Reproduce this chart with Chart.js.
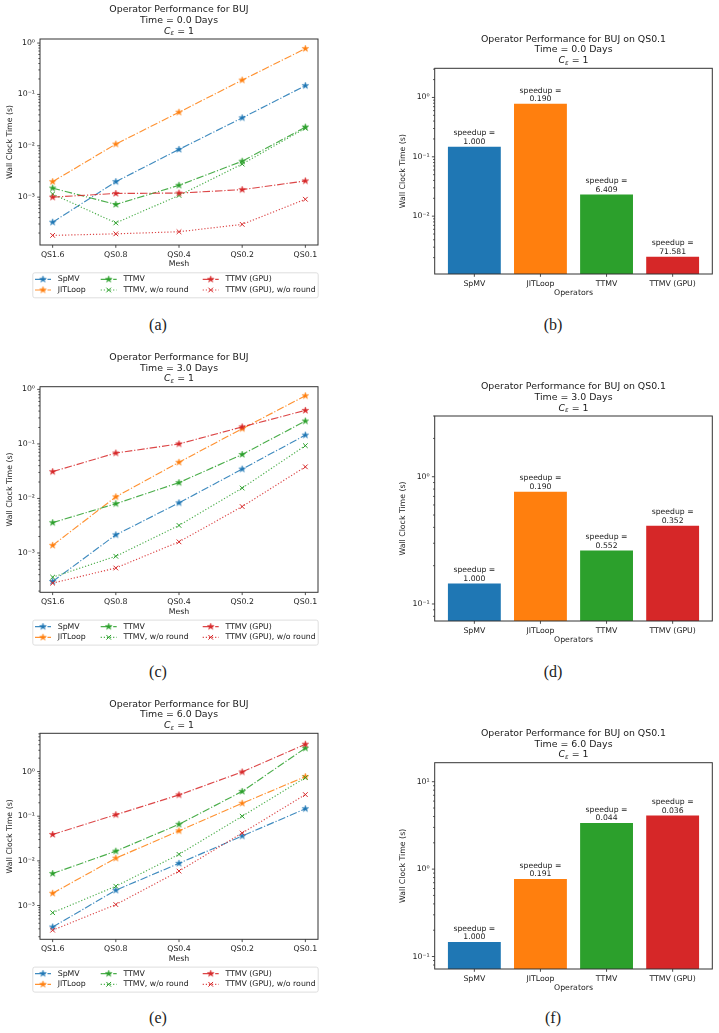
<!DOCTYPE html>
<html>
<head>
<meta charset="utf-8">
<script src="https://cdn.jsdelivr.net/npm/chart.js@4.4.1/dist/chart.umd.min.js"></script>
<style>
  body { margin: 0; background: #fff; }
  #page { position: relative; width: 719px; height: 1033px; overflow: hidden; background: #fff; }
  #page canvas { position: absolute; }
  .cap { position: absolute; font-family: "Liberation Serif", serif; font-size: 16px; color: #222; transform: translate(-50%, -50%); }
</style>
</head>
<body>
<div id="page"></div>
<script>
// ---- data ----
const meshes = ["QS1.6", "QS0.8", "QS0.4", "QS0.2", "QS0.1"];
const operators = ["SpMV", "JITLoop", "TTMV", "TTMV (GPU)"];
const seriesLabels = ["SpMV", "JITLoop", "TTMV", "TTMV, w/o round", "TTMV (GPU)", "TTMV (GPU), w/o round"];
const days = ["0.0", "3.0", "6.0"];

// Time = 0.0 days
const spmv0   = [3.25e-4, 2.0e-3, 8.5e-3, 3.5e-2, 0.148];
const jit0    = [2.0e-3, 1.08e-2, 4.5e-2, 0.19, 0.78];
const ttmv0   = [1.5e-3, 7.2e-4, 1.7e-3, 5.0e-3, 2.31e-2];
const ttmvNr0 = [1.15e-3, 3.15e-4, 1.08e-3, 4.4e-3, 2.2e-2];
const gpu0    = [1.0e-3, 1.18e-3, 1.2e-3, 1.4e-3, 2.07e-3];
const gpuNr0  = [1.8e-4, 1.93e-4, 2.12e-4, 2.95e-4, 9.1e-4];

// Time = 3.0 days
const spmv3   = [3.0e-4, 2.15e-3, 8.3e-3, 3.45e-2, 0.145];
const jit3    = [1.38e-3, 1.07e-2, 4.6e-2, 0.19, 0.763];
const ttmv3   = [3.6e-3, 8.0e-3, 1.95e-2, 6.4e-2, 0.263];
const ttmvNr3 = [3.6e-4, 8.7e-4, 3.2e-3, 1.55e-2, 9.3e-2];
const gpu3    = [3.1e-2, 6.8e-2, 0.1, 0.205, 0.412];
const gpuNr3  = [2.8e-4, 5.3e-4, 1.6e-3, 7.1e-3, 3.8e-2];

// Time = 6.0 days
const spmv6   = [3.3e-4, 2.2e-3, 8.8e-3, 3.6e-2, 0.147];
const jit6    = [1.88e-3, 1.15e-2, 4.7e-2, 0.195, 0.77];
const ttmv6   = [5.2e-3, 1.65e-2, 6.6e-2, 0.36, 3.36];
const ttmvNr6 = [6.9e-4, 2.7e-3, 1.4e-2, 0.1, 0.73];
const gpu6    = [3.9e-2, 0.108, 0.3, 0.98, 4.1];
const gpuNr6  = [2.8e-4, 1.05e-3, 5.9e-3, 4.2e-2, 0.305];

// speedup labels printed above the QS0.1 bars
const speedup0 = ["1.000", "0.190", "6.409", "71.581"];
const speedup3 = ["1.000", "0.190", "0.552", "0.352"];
const speedup6 = ["1.000", "0.191", "0.044", "0.036"];

// ---- styles ----
const FONT = '"DejaVu Sans", sans-serif';
const TXT = '#222';
const BLUE = '#1f77b4', ORANGE = '#ff7f0e', GREEN = '#2ca02c', RED = '#d62728';
const seriesColors = [BLUE, ORANGE, GREEN, GREEN, RED, RED];
const seriesMarkers = ['star', 'star', 'star', 'x', 'star', 'x'];
const DASHDOT = [7.5, 1.9, 1.2, 1.9];
const DOTTED = [1.2, 1.9];
const seriesDash = [DASHDOT, DASHDOT, DASHDOT, DOTTED, DASHDOT, DOTTED];
const barColors = [BLUE, ORANGE, GREEN, RED];

const page = document.getElementById('page');

function makeCanvas(x, y, w, h) {
    const c = document.createElement('canvas');
    c.width = w; c.height = h;
    c.style.left = x + 'px'; c.style.top = y + 'px';
    c.style.width = w + 'px'; c.style.height = h + 'px';
    page.appendChild(c);
    return c;
}

function addCaption(text, x, y) {
    const d = document.createElement('div');
    d.className = 'cap';
    d.textContent = text;
    d.style.left = x + 'px'; d.style.top = y + 'px';
    page.appendChild(d);
}

// filled 5-point star like matplotlib's '*'
const starCache = {};
function starImage(color) {
    if (starCache[color]) return starCache[color];
    const s = 9, c = document.createElement('canvas');
    c.width = s; c.height = s;
    const g = c.getContext('2d');
    g.beginPath();
    for (let i = 0; i < 10; i++) {
        const r = i % 2 ? 1.35 : 3.5;
        const a = -Math.PI / 2 + i * Math.PI / 5;
        g.lineTo(s / 2 + r * Math.cos(a), s / 2 + r * Math.sin(a));
    }
    g.closePath();
    g.fillStyle = color; g.fill();
    g.strokeStyle = color; g.lineWidth = 0.5; g.stroke();
    starCache[color] = c;
    return c;
}

const SUP = { '-': '\u207B', '0': '\u2070', '1': '\u00B9', '2': '\u00B2', '3': '\u00B3', '4': '\u2074', '5': '\u2075' };
function sup(n) { return String(n).split('').map(ch => SUP[ch]).join(''); }

// decade + minor ticks for log axes
function logTicks(scale) {
    const ticks = [];
    const lo = Math.floor(Math.log10(scale.min)), hi = Math.ceil(Math.log10(scale.max));
    for (let k = lo; k <= hi; k++) {
        for (let m = 1; m <= 9; m++) {
            const v = m * Math.pow(10, k);
            if (v >= scale.min * 0.9999 && v <= scale.max * 1.0001) ticks.push({ value: v, major: m === 1 });
        }
    }
    scale.ticks = ticks;
}

function yAxis(min, max, width, titlePad) {
    return {
        type: 'logarithmic', min: min, max: max, bounds: 'data',
        grid: { display: false, drawTicks: false }, border: { display: false },
        afterBuildTicks: logTicks,
        afterFit: s => { s.width = width; },
        ticks: {
            autoSkip: false, padding: 5, color: TXT, font: { family: FONT, size: 7.8 },
            callback: (v, i, t) => t[i].major ? '10' + sup(Math.round(Math.log10(v))) : ''
        },
        title: { display: true, text: 'Wall Clock Time (s)', color: TXT, font: { family: FONT, size: 7.8 }, padding: { top: titlePad, bottom: 0 } }
    };
}

function xAxis(min, max, names, label) {
    return {
        type: 'linear', min: min, max: max, bounds: 'data', offset: false,
        grid: { display: false, drawTicks: false }, border: { display: false },
        afterBuildTicks: s => { s.ticks = names.map((_, i) => ({ value: i })); },
        afterFit: s => { s.height = 26; },
        ticks: { autoSkip: false, maxRotation: 0, padding: 5.3, color: TXT, font: { family: FONT, size: 7.8 }, callback: v => names[v] },
        title: { display: true, text: label, color: TXT, font: { family: FONT, size: 7.8 }, padding: { top: 0, bottom: 2 } }
    };
}

// frame + outward tick marks, drawn over the data like matplotlib spines
const axesDecor = {
    id: 'axesDecor',
    afterDatasetsDraw(chart) {
        const { ctx, chartArea: a, scales } = chart;
        ctx.save();
        ctx.strokeStyle = '#222';
        ctx.lineWidth = 0.8;
        ctx.beginPath();
        scales.x.ticks.forEach(t => {
            const px = scales.x.getPixelForValue(t.value);
            ctx.moveTo(px, a.bottom); ctx.lineTo(px, a.bottom + 2.8);
        });
        scales.y.ticks.forEach(t => {
            const py = scales.y.getPixelForValue(t.value);
            ctx.moveTo(a.left, py); ctx.lineTo(a.left - (t.major ? 2.8 : 1.6), py);
        });
        ctx.stroke();
        ctx.strokeStyle = '#333';
        ctx.lineWidth = 1;
        ctx.strokeRect(a.left, a.top, a.right - a.left, a.bottom - a.top);
        ctx.restore();
    }
};

function titlePlugin(first, day) {
    return {
        id: 'figTitle',
        afterDraw(chart) {
            const { ctx, chartArea: a } = chart;
            const cx = (a.left + a.right) / 2;
            ctx.save();
            ctx.fillStyle = '#1a1a1a';
            ctx.textBaseline = 'middle';
            ctx.textAlign = 'center';
            ctx.font = '9.4px ' + FONT;
            ctx.fillText(first, cx, a.top - 29);
            ctx.fillText('Time = ' + day + ' Days', cx, a.top - 18.5);
            // C_eps = 1
            const y = a.top - 7.8;
            const fC = 'italic 9.4px ' + FONT, fE = 'italic 6.6px ' + FONT, fR = '9.4px ' + FONT;
            ctx.font = fC; const wC = ctx.measureText('C').width;
            ctx.font = fE; const wE = ctx.measureText('\u03B5').width;
            ctx.font = fR; const wR = ctx.measureText(' = 1').width;
            let x0 = cx - (wC + wE + wR) / 2;
            ctx.textAlign = 'left';
            ctx.font = fC; ctx.fillText('C', x0, y); x0 += wC;
            ctx.font = fE; ctx.fillText('\u03B5', x0, y + 2.3); x0 += wE;
            ctx.font = fR; ctx.fillText(' = 1', x0, y);
            ctx.restore();
        }
    };
}

function drawMarker(ctx, ds, x, y) {
    if (ds.pointStyle === 'crossRot') {
        const h = ds.pointRadius * Math.SQRT1_2;
        ctx.strokeStyle = ds.pointBorderColor;
        ctx.lineWidth = ds.pointBorderWidth;
        ctx.beginPath();
        ctx.moveTo(x - h, y - h); ctx.lineTo(x + h, y + h);
        ctx.moveTo(x - h, y + h); ctx.lineTo(x + h, y - h);
        ctx.stroke();
    } else {
        const img = ds.pointStyle;
        ctx.drawImage(img, x - img.width / 2, y - img.height / 2);
    }
}

// 3-column legend under the axes, filled column by column
const legendPlugin = {
    id: 'figLegend',
    afterDraw(chart) {
        const { ctx, chartArea: a } = chart;
        const bx = a.left - 7.7, by = a.bottom + 27.3, bw = a.right - a.left + 7.4, bh = 25;
        ctx.save();
        ctx.beginPath();
        ctx.roundRect(bx + 0.5, by + 0.5, bw, bh, 2);
        ctx.fillStyle = 'rgba(255,255,255,0.8)';
        ctx.fill();
        ctx.strokeStyle = '#d6d6d6';
        ctx.lineWidth = 0.8;
        ctx.stroke();
        const colX = [2.7, 68.4, 170.4];
        const rowY = [7, 17.7];
        chart.data.datasets.forEach((ds, i) => {
            const x0 = bx + colX[Math.floor(i / 2)], y0 = by + rowY[i % 2];
            ctx.strokeStyle = ds.borderColor;
            ctx.lineWidth = ds.borderWidth;
            ctx.setLineDash(ds.borderDash);
            ctx.beginPath();
            ctx.moveTo(x0, y0); ctx.lineTo(x0 + 16, y0);
            ctx.stroke();
            ctx.setLineDash([]);
            drawMarker(ctx, ds, x0 + 8, y0);
            ctx.fillStyle = TXT;
            ctx.font = '7.8px ' + FONT;
            ctx.textAlign = 'left';
            ctx.textBaseline = 'middle';
            ctx.fillText(ds.label, x0 + 22.7, y0);
        });
        ctx.restore();
    }
};

function speedupPlugin(labels) {
    return {
        id: 'speedupLabels',
        afterDatasetsDraw(chart) {
            const ctx = chart.ctx;
            ctx.save();
            ctx.fillStyle = TXT;
            ctx.font = '7.7px ' + FONT;
            ctx.textAlign = 'center';
            ctx.textBaseline = 'middle';
            chart.getDatasetMeta(0).data.forEach((bar, i) => {
                ctx.fillText('speedup =', bar.x, bar.y - 13.3);
                ctx.fillText(labels[i], bar.x, bar.y - 4.7);
            });
            ctx.restore();
        }
    };
}

function hexA(hex, a) {
    const n = parseInt(hex.slice(1), 16);
    return 'rgba(' + (n >> 16) + ',' + ((n >> 8) & 255) + ',' + (n & 255) + ',' + a + ')';
}

function lineChart(p) {
    const [cx, cy, cw, ch] = p.box;
    const [l, t, r, b] = p.area;
    const canvas = makeCanvas(cx, cy, cw, ch);
    const n = seriesLabels.length;
    const datasets = seriesLabels.map((label, i) => ({
        label: label,
        data: meshes.map((_, j) => ({ x: j, y: p.series[i][j] })),
        borderColor: hexA(seriesColors[i], 0.85),
        borderWidth: 1.15,
        borderDash: seriesDash[i],
        pointStyle: seriesMarkers[i] === 'star' ? starImage(seriesColors[i]) : 'crossRot',
        pointRadius: 3.3,
        pointBorderWidth: 1,
        pointBorderColor: seriesColors[i],
        pointBackgroundColor: seriesColors[i],
        fill: false,
        tension: 0,
        order: n - 1 - i
    }));
    new Chart(canvas, {
        type: 'line',
        data: { datasets: datasets },
        options: {
            responsive: false, animation: false, devicePixelRatio: 1,
            layout: { padding: { left: 0, top: t - cy, right: cw - (r - cx), bottom: ch - (b - cy) - 26 } },
            plugins: { legend: { display: false }, tooltip: { enabled: false } },
            scales: {
                x: xAxis(-0.2, 4.2, meshes, 'Mesh'),
                y: yAxis(p.yMin, p.yMax, l - cx, 5.3)
            }
        },
        plugins: [axesDecor, titlePlugin('Operator Performance for BUJ', days[p.day]), legendPlugin]
    });
}

function barChart(p) {
    const [cx, cy, cw, ch] = p.box;
    const [l, t, r, b] = p.area;
    const canvas = makeCanvas(cx, cy, cw, ch);
    const values = p.series.map(s => s[s.length - 1]); // QS0.1 column
    new Chart(canvas, {
        type: 'bar',
        data: {
            datasets: [{
                label: 'Wall Clock Time',
                data: operators.map((_, i) => ({ x: i, y: values[i] })),
                backgroundColor: barColors,
                borderWidth: 0,
                barPercentage: 0.8,
                categoryPercentage: 1
            }]
        },
        options: {
            responsive: false, animation: false, devicePixelRatio: 1,
            layout: { padding: { left: 0, top: t - cy, right: cw - (r - cx), bottom: ch - (b - cy) - 26 } },
            plugins: { legend: { display: false }, tooltip: { enabled: false } },
            scales: {
                x: xAxis(-0.6, 3.6, operators, 'Operators'),
                y: yAxis(p.yMin, p.yMax, l - cx, 38.6)
            }
        },
        plugins: [axesDecor, titlePlugin('Operator Performance for BUJ on QS0.1', days[p.day]), speedupPlugin(p.speedup)]
    });
}

const linePanels = [
    { day: 0, series: [spmv0, jit0, ttmv0, ttmvNr0, gpu0, gpuNr0], yMin: 1.17e-4, yMax: 1.2, box: [0, 0, 360, 305], area: [40, 39, 318, 245] },
    { day: 1, series: [spmv3, jit3, ttmv3, ttmvNr3, gpu3, gpuNr3], yMin: 1.9e-4, yMax: 1.12, box: [0, 340, 360, 310], area: [40, 386.7, 318, 592.3] },
    { day: 2, series: [spmv6, jit6, ttmv6, ttmvNr6, gpu6, gpuNr6], yMin: 1.75e-4, yMax: 7.2, box: [0, 690, 360, 310], area: [40, 733.3, 318, 939.3] }
];
const barPanels = [
    { day: 0, series: [spmv0, jit0, ttmv0, gpu0], speedup: speedup0, yMin: 1.06e-3, yMax: 3.1, box: [360, 0, 359, 305], area: [434.7, 68.3, 712.3, 274] },
    { day: 1, series: [spmv3, jit3, ttmv3, gpu3], speedup: speedup3, yMin: 0.0735, yMax: 3.0, box: [360, 340, 359, 310], area: [434.7, 416, 712.3, 621] },
    { day: 2, series: [spmv6, jit6, ttmv6, gpu6], speedup: speedup6, yMin: 0.072, yMax: 16.5, box: [360, 690, 359, 310], area: [434.7, 762.7, 712.3, 969] }
];

linePanels.forEach(lineChart);
barPanels.forEach(barChart);

addCaption('(a)', 158, 325);
addCaption('(b)', 553, 325);
addCaption('(c)', 158, 672);
addCaption('(d)', 553, 672);
addCaption('(e)', 158, 1018);
addCaption('(f)', 553, 1018);
</script>
</body>
</html>
